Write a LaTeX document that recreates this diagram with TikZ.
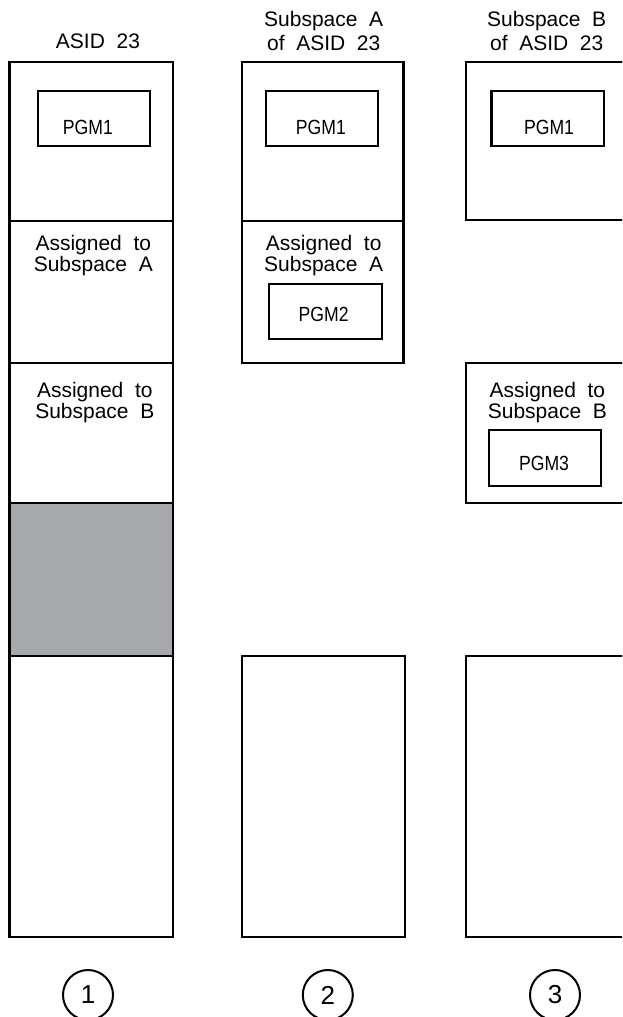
\documentclass[tikz,border=0pt]{standalone}
\usepackage{fontspec}
\setmainfont{Liberation Sans}[WordSpace=2]
\newfontfamily\pgmfont{Liberation Sans}[FakeStretch=0.86]
\definecolor{shadegray}{RGB}{167,168,172}

\begin{document}
\begin{tikzpicture}[x=1pt,y=-1pt,line width=2.2pt,
  ttl/.style={align=center,inner sep=0pt,font=\fontsize{21}{24.3}\selectfont},
  lbl/.style={align=center,inner sep=0pt,font=\fontsize{21}{21.7}\selectfont},
  pgmlbl/.style={inner sep=0pt,font=\pgmfont\fontsize{20.5}{22}\selectfont},
  colnum/.style={circle,draw,line width=2pt,minimum size=50pt,inner sep=0pt,font=\fontsize{26}{26}\selectfont}]
\useasboundingbox (0,0) rectangle (622,1017);
\clip (0,0) rectangle (622,1017);
% column 1: the whole address space
\fill[shadegray] (9.5,502.7) rectangle (173.3,656);
\draw (9.5,61.7) rectangle (173.3,937.3);
\foreach \y in {221,362.7,502.7,656} { \draw (9.5,\y) -- (173.3,\y); }
% column 2: subspace A
\draw (241.6,61.7) rectangle (403.4,363.3);
\draw (241.6,221) -- (403.4,221);
\draw (241.6,655.7) rectangle (404.6,937.3);
% column 3: subspace B
\draw (465.7,61.7) rectangle (640,220);
\draw (465.7,362.7) rectangle (640,503.3);
\draw (465.7,655.7) rectangle (640,937.3);
% program boxes
\foreach \xa/\ya/\xb/\yb in {38/90.7/150.3/146.3, 265.8/90.7/377.6/146.3, 491.5/90.7/603.7/146.3,
    269.3/283.7/381.6/339.3, 488.7/430/601/485.7}
  { \draw (\xa,\ya) rectangle (\xb,\yb); }
\node[pgmlbl] (pgmA) at (87.9,127) {PGM1};
\node[pgmlbl] (pgmB) at (320.9,127) {PGM1};
\node[pgmlbl] (pgmC) at (549,127) {PGM1};
\node[pgmlbl] (pgmtwo) at (323.7,314.7) {PGM2};
\node[pgmlbl] (pgmthree) at (544,463) {PGM3};
% headings
\node[ttl] (ttlA) at (98,40.8) {ASID 23};
\node[ttl] (ttlB) at (323.7,31.2) {Subspace A\\of ASID 23};
\node[ttl] (ttlC) at (546.7,31.2) {Subspace B\\of ASID 23};
\node[lbl] (asgA) at (93.3,255.6) {Assigned to\\Subspace A};
\node[lbl] (asgAA) at (323.7,255.6) {Assigned to\\Subspace A};
\node[lbl] (asgB) at (94.8,402.7) {Assigned to\\Subspace B};
\node[lbl] (asgBB) at (547.4,402.7) {Assigned to\\Subspace B};
% step numbers
\node[colnum] (numA) at (88,995) {1};
\node[colnum] (numB) at (327.8,995) {2};
\node[colnum] (numC) at (555,995) {3};
\end{tikzpicture}
\end{document}
